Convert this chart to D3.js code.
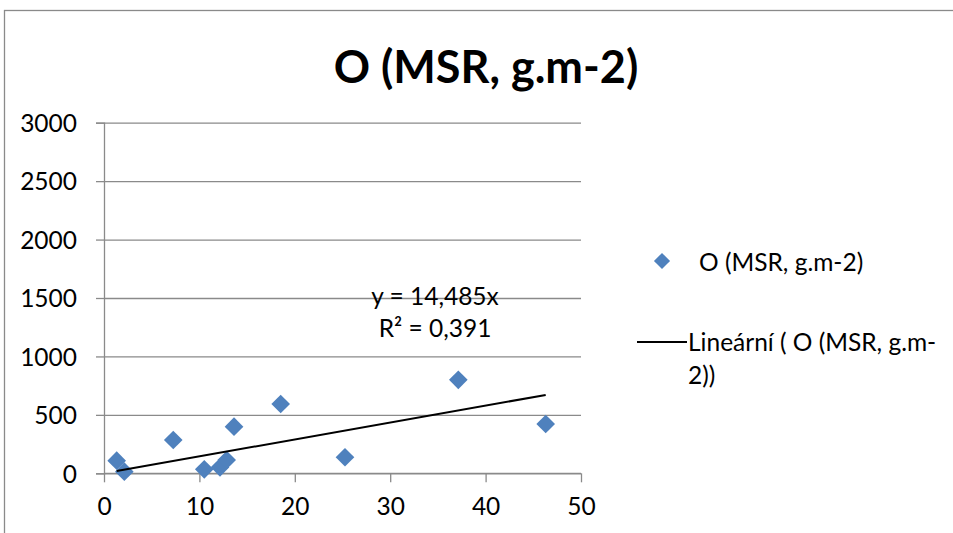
<!DOCTYPE html>
<html>
<head>
<meta charset="utf-8">
<script src="https://cdn.jsdelivr.net/npm/d3@7"></script>
<style>
  html, body { margin: 0; padding: 0; background: #fff; }
  svg { display: block; font-family: Lato, "Noto Sans", sans-serif; }
</style>
</head>
<body>
<svg id="chart" width="953" height="533"></svg>
<script>
// Sample values: x and O (MSR, g.m-2)
const xValues = [1.33, 2.13, 7.26, 10.51, 12.16, 12.86, 13.63, 18.52, 25.26, 37.14, 46.30];
const yValues = [108, 14, 285, 34, 51, 114, 399, 593, 137, 800, 422];
const xTicks = [0, 10, 20, 30, 40, 50];
const yTicks = [0, 500, 1000, 1500, 2000, 2500, 3000];
const slope = 14.485;          // linear trend through the origin
const trendLabel = ["y = 14,485x", "R² = 0,391"];
const title = "O (MSR, g.m-2)";
const legendLabels = ["O (MSR, g.m-2)", "Lineární ( O (MSR, g.m-", "2))"];

const blue = "#4f81bd";
const grid = "#8a8a8a";
const fs = 24.5;

const svg = d3.select("#chart");

// outer chart frame
svg.append("rect")
  .attr("x", 4.5).attr("y", 10.5)
  .attr("width", 980).attr("height", 560)
  .attr("fill", "#fff").attr("stroke", "#8a8a8a").attr("stroke-width", 1.3);

const x = d3.scaleLinear().domain([0, 50]).range([104, 581]);
const y = d3.scaleLinear().domain([0, 3000]).range([473.3, 122.7]);

// horizontal gridlines + y axis
const yAxis = d3.axisLeft(y).tickValues(yTicks).tickFormat(d3.format("d")).tickSize(8).tickPadding(19);
const gy = svg.append("g").attr("transform", `translate(${x(0)},0)`).call(yAxis);
gy.select(".domain").attr("stroke", grid).attr("stroke-width", 1.3);
gy.selectAll(".tick line").attr("stroke", grid).attr("stroke-width", 1.3);
gy.selectAll(".tick").append("line")
  .attr("x1", 0).attr("x2", x(50) - x(0))
  .attr("stroke", grid).attr("stroke-width", 1.3);
gy.selectAll(".tick text")
  .attr("fill", "#000").attr("font-size", fs).attr("dy", "0.36em")
  .style("font-family", "Lato, sans-serif");

// x axis
const xAxis = d3.axisBottom(x).tickValues(xTicks).tickFormat(d3.format("d")).tickSize(9).tickPadding(15);
const gx = svg.append("g").attr("transform", `translate(0,${y(0)})`).call(xAxis);
gx.select(".domain").attr("stroke", grid).attr("stroke-width", 1.3).attr("d", `M${x(0)},0H${x(50)}`);
gx.selectAll(".tick line").attr("stroke", grid).attr("stroke-width", 1.3);
gx.selectAll(".tick text")
  .attr("fill", "#000").attr("font-size", fs)
  .style("font-family", "Lato, sans-serif");

// trend label
svg.append("g").selectAll("text").data(trendLabel).join("text")
  .attr("x", 435).attr("y", (d, i) => 305 + i * 31.5)
  .attr("text-anchor", "middle").attr("font-size", fs)
  .text(d => d);

// data points
const diamond = d3.symbol().type(d3.symbolDiamond2).size(222);
const pts = xValues.map((v, i) => [v, yValues[i]]);
svg.append("g").selectAll("path").data(pts).join("path")
  .attr("d", diamond)
  .attr("transform", d => `translate(${x(d[0])},${y(d[1])})`)
  .attr("fill", blue);

// linear trendline over the data range
const xMin = d3.min(xValues), xMax = d3.max(xValues);
svg.append("line")
  .attr("x1", x(xMin)).attr("y1", y(slope * xMin))
  .attr("x2", x(xMax)).attr("y2", y(slope * xMax))
  .attr("stroke", "#000").attr("stroke-width", 2);

// title
svg.append("text")
  .attr("x", 486).attr("y", 83)
  .attr("text-anchor", "middle")
  .attr("font-size", 45).attr("font-weight", "bold")
  .text(title);

// legend
const lg = svg.append("g");
lg.append("path").attr("d", d3.symbol().type(d3.symbolDiamond2).size(165))
  .attr("transform", "translate(662,261)").attr("fill", blue);
lg.append("text").attr("x", 699).attr("y", 271).attr("font-size", fs).text(legendLabels[0]);
lg.append("line").attr("x1", 637).attr("x2", 687).attr("y1", 342).attr("y2", 342)
  .attr("stroke", "#000").attr("stroke-width", 2);
lg.append("text").attr("x", 688).attr("y", 351).attr("font-size", fs).text(legendLabels[1]);
lg.append("text").attr("x", 688).attr("y", 384).attr("font-size", fs).text(legendLabels[2]);
</script>
</body>
</html>
